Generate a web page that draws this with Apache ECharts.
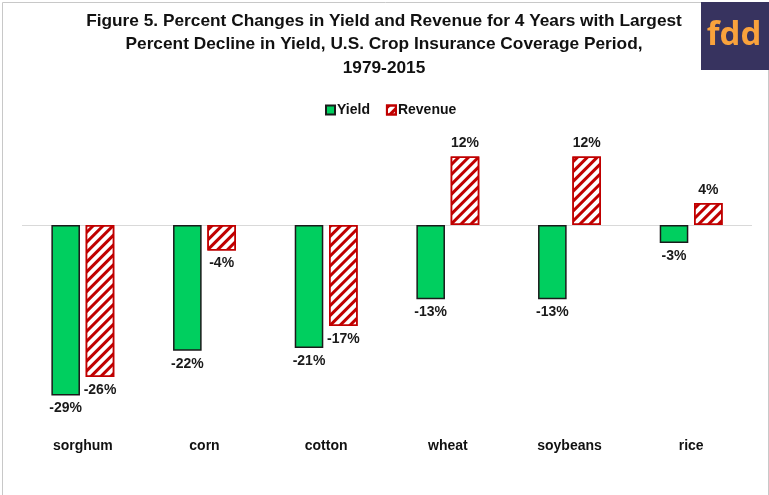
<!DOCTYPE html>
<html>
<head>
<meta charset="utf-8">
<script src="https://cdn.jsdelivr.net/npm/echarts@6/dist/echarts.min.js"></script>
<style>
html,body{margin:0;padding:0;background:#fff;}
#c{width:769px;height:495px;}
</style>
</head>
<body>
<div id="c"></div>
<script>
const categories = ['sorghum', 'corn', 'cotton', 'wheat', 'soybeans', 'rice'];
const yieldChange = [-29.4, -21.7, -21.2, -12.8, -12.8, -3.1];
const revenueChange = [-26.2, -4.4, -17.4, 11.8, 11.8, 3.8];
const titleLines = [
  'Figure 5. Percent Changes in Yield and Revenue for 4 Years with Largest',
  'Percent Decline in Yield, U.S. Crop Insurance Coverage Period,',
  '1979-2015'
];

const font = 'Liberation Sans, Arial, sans-serif';
const chart = echarts.init(document.getElementById('c'), null, {renderer: 'canvas'});

function mk(values) {
  return values.map(v => ({
    value: v,
    label: {position: v < 0 ? 'bottom' : 'top'}
  }));
}
const lbl = {
  show: true,
  distance: 6,
  fontFamily: font,
  fontWeight: 'bold',
  fontSize: 14,
  color: '#1a1a1a',
  formatter: p => Math.round(p.value) + '%'
};

chart.setOption({
  animation: false,
  backgroundColor: '#fff',
  title: {
    text: titleLines.join('\n'),
    left: 379,
    textAlign: 'center',
    top: 4,
    textStyle: {fontFamily: font, fontWeight: 'bold', fontSize: 17.3, lineHeight: 23.5, color: '#111'}
  },
  legend: {
    top: 98,
    left: 320,
    itemWidth: 9,
    itemHeight: 9,
    itemGap: 16,
    icon: 'rect',
    textStyle: {fontFamily: font, fontWeight: 'bold', fontSize: 14, color: '#111', padding: [0,0,0,-3]},
    data: ['Yield', 'Revenue']
  },
  grid: {left: 22, right: 17, top: 138, bottom: 67},
  xAxis: {
    type: 'category',
    data: categories,
    axisLine: {show: false},
    axisTick: {show: false},
    axisLabel: {fontFamily: font, fontWeight: 'bold', fontSize: 14, color: '#111', margin: 11}
  },
  yAxis: {
    type: 'value',
    min: -35,
    max: 15,
    show: false,
    splitLine: {show: false}
  },
  graphic: [
    {type: 'rect', shape: {x: 2.5, y: 2.5, width: 766, height: 500}, style: {fill: 'none', stroke: '#c8c8c8', lineWidth: 1}, silent: true},
    {type: 'rect', shape: {x: 701, y: 2, width: 68, height: 68}, style: {fill: '#37335f'}},
    {type: 'text', x: 734, y: 36, style: {text: 'fdd', fill: '#f9a23c', fontFamily: 'Open Sans, sans-serif', fontSize: 33, fontWeight: 'bold', align: 'center', verticalAlign: 'middle'}}
  ],
  series: [
    {
      name: 'Yield',
      type: 'bar',
      data: mk(yieldChange),
      barWidth: '23.5%',
      barGap: '20%',
      itemStyle: {color: '#00cf5f', borderColor: '#1a1a1a', borderWidth: 1.5},
      label: lbl,
      markLine: {
        silent: true,
        symbol: 'none',
        label: {show: false},
        lineStyle: {color: '#d9d9d9', type: 'solid', width: 1},
        data: [{yAxis: 0}],
        z: 0
      }
    },
    {
      name: 'Revenue',
      type: 'bar',
      data: mk(revenueChange),
      barWidth: '23.5%',
      itemStyle: {
        color: '#ffffff',
        borderColor: '#c00000',
        borderWidth: 1.5,
        decal: {
          symbol: 'rect',
          color: '#c00000',
          dashArrayX: [1, 0],
          dashArrayY: [2.5, 3.5],
          rotation: -Math.PI / 4,
          symbolSize: 1
        }
      },
      label: lbl
    }
  ]
});
</script>
</body>
</html>
